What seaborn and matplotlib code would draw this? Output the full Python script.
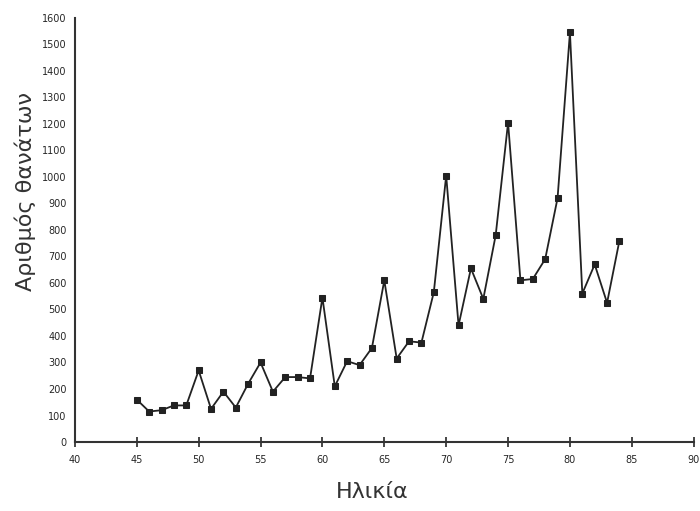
import pandas as pd
import seaborn as sns
import matplotlib.pyplot as plt

# Ηλικία και αριθμός θανάτων (τιμές από το γράφημα)
ilikia = list(range(45, 85))
thanatoi = [160, 115, 120, 138, 138, 270, 125, 190, 130, 220,
            300, 190, 245, 245, 240, 545, 210, 305, 290, 355,
            610, 315, 380, 375, 565, 1005, 440, 655, 540, 780,
            1205, 610, 615, 690, 920, 1545, 560, 670, 525, 760]

x_ticks = list(range(40, 95, 5))
y_ticks = list(range(0, 1700, 100))

df = pd.DataFrame({"Ηλικία": ilikia, "Θάνατοι": thanatoi})

sns.set_theme(style="ticks")
plt.rcParams['font.family'] = ['DejaVu Sans']

fig = plt.figure(figsize=(7, 5.11), dpi=100)
ax = fig.add_axes([0.107, 0.135, 0.884, 0.83])

sns.lineplot(data=df, x="Ηλικία", y="Θάνατοι", ax=ax, color="#222222",
             linewidth=1.3, marker="s", markersize=5, markeredgecolor="#222222")

ax.set_xlim(40, 90)
ax.set_ylim(0, 1600)
ax.set_xticks(x_ticks)
ax.set_yticks(y_ticks)
ax.tick_params(axis="x", direction="inout", length=7, width=1.2, labelsize=7, pad=6)
ax.tick_params(axis="y", length=0, labelsize=7, pad=6)

for s in ["top", "right"]:
    ax.spines[s].set_visible(False)
for s in ["left", "bottom"]:
    ax.spines[s].set_color("#333333")
    ax.spines[s].set_linewidth(1.5)

ax.set_xlabel("Ηλικία", fontsize=16, color="#333333")
ax.set_ylabel("Αριθμός θανάτων", fontsize=16, color="#333333")
ax.xaxis.set_label_coords(0.48, -0.095)
ax.yaxis.set_label_coords(-0.063, 0.59)

fig.savefig("out.png", dpi=100)
